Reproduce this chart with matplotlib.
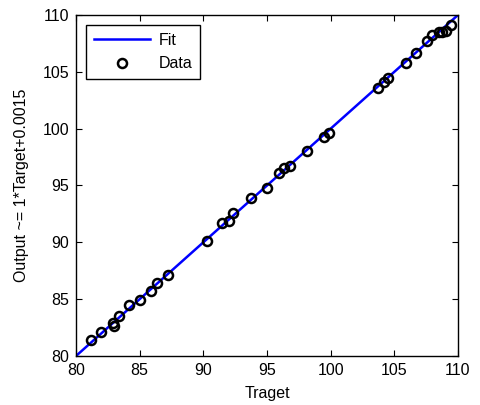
import matplotlib
matplotlib.use("Agg")
import matplotlib.pyplot as plt
import numpy as np

plt.rcParams['font.family'] = ['Liberation Sans', 'DejaVu Sans']

target = [81.18, 82.0, 82.9, 83.0, 83.4, 84.2, 85.05, 85.9, 86.4, 87.25,
          90.3, 91.5, 92.05, 92.36, 93.75, 95.0, 95.97, 96.36, 96.8, 98.15,
          99.44, 99.86, 103.7, 104.15, 104.5, 105.9, 106.7, 107.55, 107.98,
          108.5, 108.75, 109.05, 109.44]
output = [81.41, 82.1, 82.9, 82.6, 83.5, 84.5, 84.9, 85.75, 86.45, 87.1,
          90.1, 91.7, 91.9, 92.6, 93.9, 94.8, 96.1, 96.56, 96.7, 98.03,
          99.29, 99.64, 103.6, 104.1, 104.45, 105.8, 106.7, 107.7, 108.2,
          108.5, 108.5, 108.6, 109.1]
fit_slope = 1.0
fit_intercept = 0.0015
fit_x = [80, 110]
ticks = [80, 85, 90, 95, 100, 105, 110]

fig = plt.figure(figsize=(4.81, 4.05), dpi=100)
ax = fig.add_axes([76/481, 1 - 356/405, 382/481, 341/405])

fx = np.array(fit_x, dtype=float)
ax.plot(fx, fit_slope * fx + fit_intercept, color='#0000ff', lw=1.8, label='Fit', zorder=2)
ax.plot(target, output, linestyle='none', marker='o', markersize=6.5,
        markerfacecolor='none', markeredgecolor='black', markeredgewidth=1.8,
        label='Data', zorder=3)

ax.set_xlim(80, 110)
ax.set_ylim(80, 110)
ax.set_xticks(ticks)
ax.set_yticks(ticks)
ax.tick_params(direction='in', top=True, right=True, labelsize=11.5, length=4, width=0.8, pad=5)
for s in ax.spines.values():
    s.set_linewidth(1.0)
ax.set_xlabel('Traget', fontsize=11.5, labelpad=6)
ax.set_ylabel('Output ~= 1*Target+0.0015', fontsize=11.5, labelpad=10)

leg = ax.legend(loc='upper left', bbox_to_anchor=(0.026, 0.972), fontsize=11.5,
                frameon=True, fancybox=False, edgecolor='black', framealpha=1,
                handlelength=3.5, borderpad=0.5, labelspacing=0.55, handletextpad=0.55,
                borderaxespad=0, numpoints=1)
leg.get_frame().set_linewidth(1.0)

fig.savefig('out.png', dpi=100)
